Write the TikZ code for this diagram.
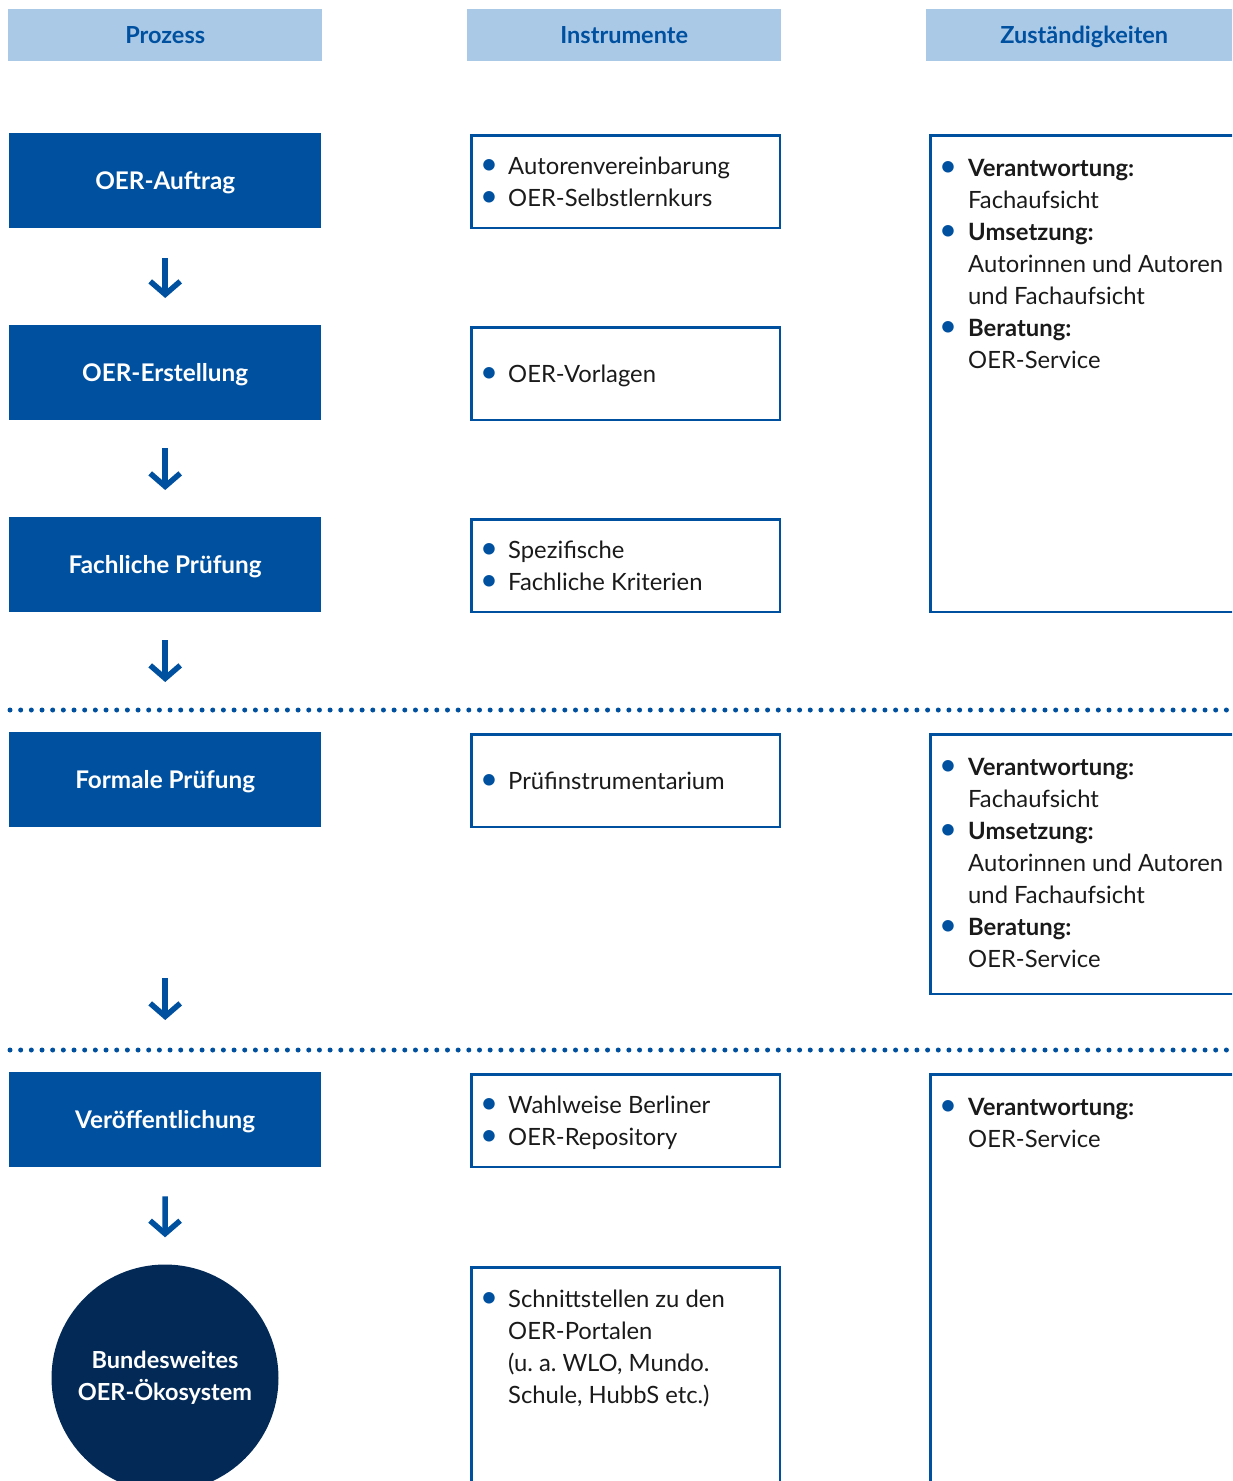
\documentclass[tikz,border=0pt]{standalone}
\usepackage{fontspec}
\setmainfont{Lato}
\usetikzlibrary{arrows.meta}
\frenchspacing
\definecolor{oerblue}{HTML}{0050A0}
\definecolor{headfill}{HTML}{A9C9E7}
\definecolor{navy}{HTML}{032A57}
\definecolor{txtc}{HTML}{1A1A1A}
\newcommand{\bl}{\textcolor{oerblue}{\raisebox{-0.6pt}{\scalebox{1.3}{\textbullet}}}}
\newcommand{\itemsI}[1]{{\fontsize{23.8}{32}\selectfont\frenchspacing\color{txtc}\begin{tabular}[t]{@{}p{28pt}@{}l@{}}#1\end{tabular}}}
\newcommand{\itemsZ}[1]{{\fontsize{23.8}{32}\selectfont\frenchspacing\color{txtc}\begin{tabular}[t]{@{}p{29pt}@{}l@{}}#1\end{tabular}}}
\tikzset{
  head/.style={fill=headfill, text=oerblue, font=\fontsize{23.5}{26}\selectfont\bfseries, minimum height=52pt, inner sep=0pt, anchor=north west, text height=17pt, text depth=0pt},
  proc/.style={fill=oerblue, text=white, font=\fontsize{24.3}{32}\selectfont\bfseries, minimum width=312pt, minimum height=95pt, inner sep=0pt, anchor=north west, text height=17.5pt, text depth=0pt},
  ibox/.style={draw=oerblue, line width=2.5pt, minimum width=308.5pt, anchor=north west, inner sep=0pt},
  zbox/.style={draw=oerblue, line width=2.5pt, minimum width=330pt, anchor=north west, inner sep=0pt},
  txt/.style={anchor=base west, inner sep=0pt},
  arr/.style={draw=oerblue, line width=5.5pt, -{Straight Barb[length=13pt,width=30pt]}},
  sep/.style={draw=oerblue, line width=5pt, line cap=round, dash pattern=on 0pt off 10.67pt},
}
\begin{document}
\begin{tikzpicture}[x=1pt,y=-1pt]
\useasboundingbox (0,0) rectangle (1232,1481);
\clip (0,0) rectangle (1232,1481);
% headers
\node[head, minimum width=314pt] (h1) at (8,9) {Prozess};
\node[head, minimum width=314pt] (h2) at (467,9) {Instrumente};
\node[head, minimum width=316pt] (h3) at (926,9) {Zuständigkeiten};
% process boxes
\node[proc] (p1) at (9,133) {OER-Auftrag};
\node[proc] (p2) at (9,325) {OER-Erstellung};
\node[proc] (p3) at (9,517) {Fachliche Prüfung};
\node[proc] (p4) at (9,732) {Formale Prüfung};
\node[proc] (p5) at (9,1072) {Veröffentlichung};
\node[circle, fill=navy, minimum size=227pt, inner sep=0pt, text=white, align=center,
      font=\fontsize{23.5}{32}\selectfont\bfseries] (p6) at (165,1378) {Bundesweites\\OER-Ökosystem};
% arrows
\draw[arr, shorten <=30pt, shorten >=27pt] (p1.south) -- (p2.north);
\draw[arr, shorten <=28pt, shorten >=27pt] (p2.south) -- (p3.north);
\draw[arr, shorten <=28pt, shorten >=50pt] (p3.south) -- (p4.north);
\draw[arr, shorten <=151pt, shorten >=52pt] (p4.south) -- (p5.north);
\draw[arr, shorten <=29pt, shorten >=27pt] (p5.south) -- (p6.north);
% separators
\draw[sep] (10,710) -- (1232,710);
\draw[sep] (10,1050) -- (1232,1050);
% instrument boxes
\node[ibox, minimum height=92.5pt] (i1) at (470.25,134.25) {};
\node[ibox, minimum height=92.5pt] (i2) at (470.25,326.25) {};
\node[ibox, minimum height=92.5pt] (i3) at (470.25,518.25) {};
\node[ibox, minimum height=92.5pt] (i4) at (470.25,733.25) {};
\node[ibox, minimum height=92.5pt] (i5) at (470.25,1073.25) {};
\node[ibox, minimum height=250pt] (i6) at (470.25,1266.25) {};
\node[txt] (i1t) at (480,174) {\itemsI{\bl & Autorenvereinbarung\\ \bl & OER-Selbstlernkurs}};
\node[txt] (i2t) at (480,382) {\itemsI{\bl & OER-Vorlagen}};
\node[txt] (i3t) at (480,558) {\itemsI{\bl & Spezifische\\ \bl & Fachliche Kriterien}};
\node[txt] (i4t) at (480,789) {\itemsI{\bl & Prüfinstrumentarium}};
\node[txt] (i5t) at (480,1113) {\itemsI{\bl & Wahlweise Berliner\\ \bl & OER-Repository}};
\node[txt] (i6t) at (480,1307) {\itemsI{\bl & Schnittstellen zu den\\ & OER-Portalen\\ & (u. a. WLO, Mundo.\\ & Schule, HubbS etc.)}};
% responsibility boxes
\node[zbox, minimum height=476.5pt] (z1) at (929.25,134.25) {};
\node[zbox, minimum height=259.5pt] (z2) at (929.25,733.25) {};
\node[zbox, minimum height=430pt] (z3) at (929.25,1073.25) {};
\node[txt] (z1t) at (939,176) {\itemsZ{\bl & \textbf{Verantwortung:}\\ & Fachaufsicht\\ \bl & \textbf{Umsetzung:}\\ & Autorinnen und Autoren\\ & und Fachaufsicht\\ \bl & \textbf{Beratung:}\\ & OER-Service}};
\node[txt] (z2t) at (939,775) {\itemsZ{\bl & \textbf{Verantwortung:}\\ & Fachaufsicht\\ \bl & \textbf{Umsetzung:}\\ & Autorinnen und Autoren\\ & und Fachaufsicht\\ \bl & \textbf{Beratung:}\\ & OER-Service}};
\node[txt] (z3t) at (939,1115) {\itemsZ{\bl & \textbf{Verantwortung:}\\ & OER-Service}};
\end{tikzpicture}
\end{document}
